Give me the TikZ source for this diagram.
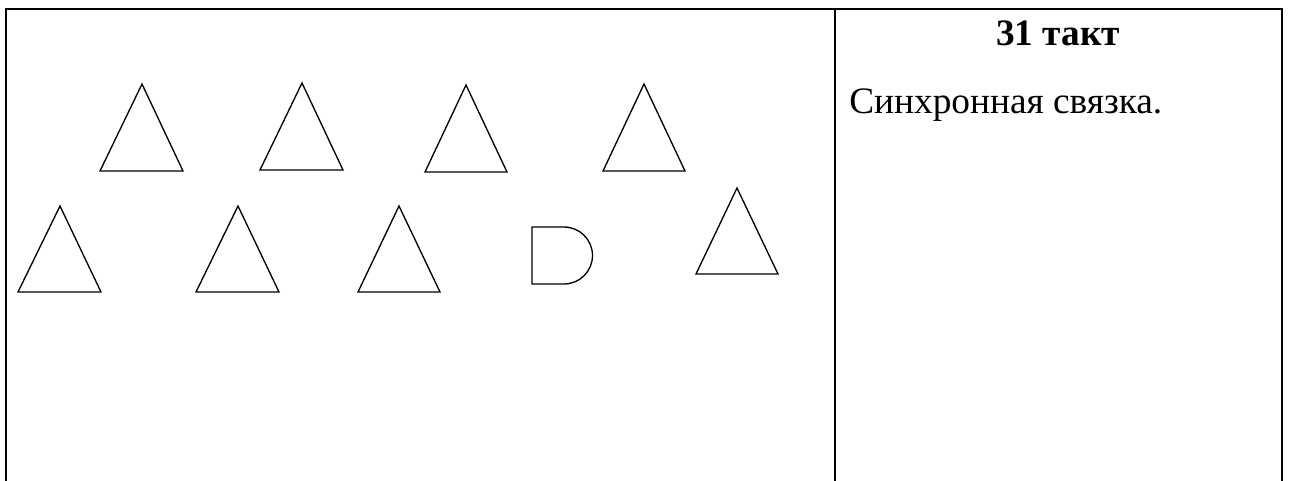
\documentclass[tikz,border=0pt]{standalone}
\usepackage{fontspec}
\setmainfont{Liberation Serif}
\usepackage{tikz}
\usetikzlibrary{positioning}
\tikzset{
  tblline/.style={line width=1.5pt, line cap=rect},
  tri/.style={line width=1pt, line join=miter},
  celltext/.style={inner sep=0pt, font=\fontsize{28}{32}\selectfont}
}

\begin{document}
\begin{tikzpicture}[x=0.75pt, y=-0.75pt]
\useasboundingbox (0,0) rectangle (1289,480);
% table frame, open at the bottom
\draw[tblline] (6,480) -- (6,9) -- (1282,9) -- (1282,480);
\draw[tblline] (835,9) -- (835,480);
% upper row of triangles
\draw[tri] (142,84) -- (183,171) -- (100,171) -- cycle;
\draw[tri] (302,83) -- (343,170) -- (260,170) -- cycle;
\draw[tri] (466,85) -- (507,172) -- (425,172) -- cycle;
\draw[tri] (644,84) -- (685,171) -- (603,171) -- cycle;
% lower row
\draw[tri] (60,206) -- (101,292) -- (18,292) -- cycle;
\draw[tri] (238,206) -- (279,292) -- (196,292) -- cycle;
\draw[tri] (399,206) -- (440,292) -- (358,292) -- cycle;
\draw[tri] (532,227) -- (564,227) arc[start angle=-90, end angle=90, radius=28.5] -- (532,284) -- cycle;
\draw[tri] (737,188) -- (778,274) -- (696,274) -- cycle;
% right cell
\node[celltext, font=\fontsize{28}{32}\selectfont\bfseries, anchor=base] (title) at (1058,45) {31 такт};
\node[celltext, anchor=base west] (desc) at (849,113) {Синхронная связка.};
\end{tikzpicture}
\end{document}
